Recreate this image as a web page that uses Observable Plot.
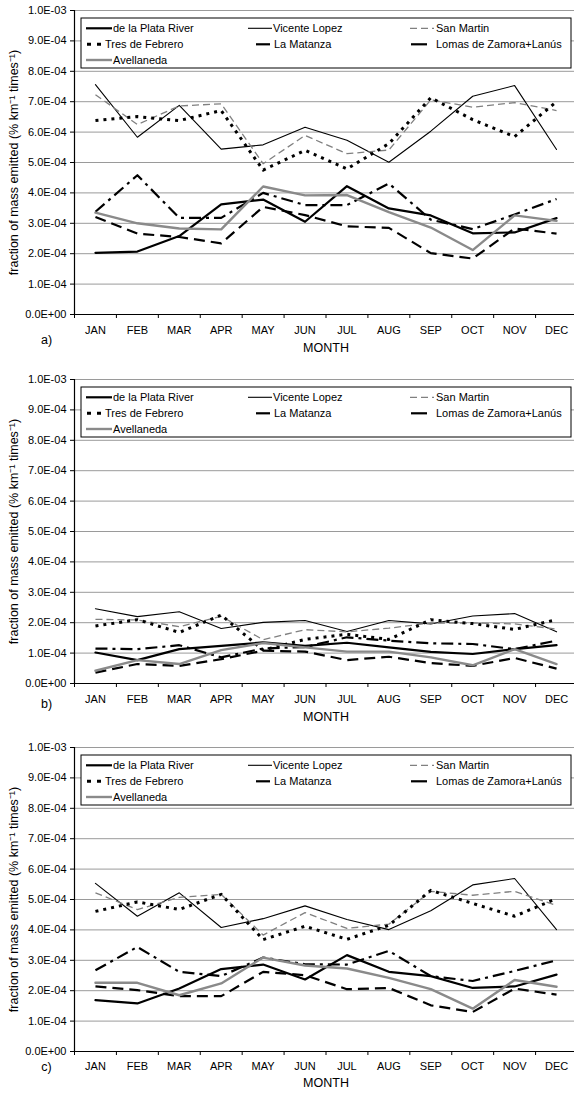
<!DOCTYPE html>
<html><head><meta charset="utf-8">
<script src="https://cdn.jsdelivr.net/npm/d3@7"></script>
<script src="https://cdn.jsdelivr.net/npm/@observablehq/plot@0.6"></script>
<style>
html,body{margin:0;padding:0;background:#fff;overflow:hidden;}
#root{width:574px;height:1093px;overflow:hidden;position:relative;}
#root svg{display:block;}
</style></head><body><div id="root"></div>
<script>
// ---- data (values in units of 1E-04) ----
const months = ["JAN","FEB","MAR","APR","MAY","JUN","JUL","AUG","SEP","OCT","NOV","DEC"];
const seriesNames = ["de la Plata River","Vicente Lopez","San Martin","Tres de Febrero","La Matanza","Lomas de Zamora+Lanús","Avellaneda"];
const yTicks = [0, 1e-4, 2e-4, 3e-4, 4e-4, 5e-4, 6e-4, 7e-4, 8e-4, 9e-4, 1e-3];
const panelLabels = ["a)", "b)", "c)"];
const xTitle = "MONTH";
const yTitle = "fraction of mass emitted (% km\u207B\u00B9 times\u207B\u00B9)";

const aPlata      = [2.03, 2.07, 2.58, 3.62, 3.78, 3.05, 4.22, 3.49, 3.26, 2.67, 2.70, 3.17];
const aVicente    = [7.56, 5.83, 6.88, 5.44, 5.58, 6.16, 5.73, 5.01, 6.03, 7.18, 7.53, 5.43];
const aSanMartin  = [7.23, 6.25, 6.86, 6.93, 4.96, 5.89, 5.29, 5.41, 7.06, 6.82, 6.97, 6.71];
const aTres       = [6.38, 6.51, 6.38, 6.71, 4.75, 5.40, 4.79, 5.62, 7.13, 6.41, 5.85, 7.00];
const aMatanza    = [3.38, 4.58, 3.18, 3.18, 4.00, 3.60, 3.60, 4.31, 3.12, 2.81, 3.29, 3.80];
const aLomas      = [3.21, 2.66, 2.55, 2.34, 3.54, 3.27, 2.90, 2.85, 2.02, 1.84, 2.83, 2.66];
const aAvellaneda = [3.35, 3.00, 2.83, 2.80, 4.21, 3.92, 3.93, 3.37, 2.86, 2.12, 3.26, 3.08];

const bPlata      = [1.02, 0.77, 1.13, 1.24, 1.35, 1.24, 1.34, 1.19, 1.04, 0.97, 1.13, 1.26];
const bVicente    = [2.46, 2.20, 2.36, 1.81, 2.01, 2.07, 1.71, 2.07, 1.96, 2.22, 2.30, 1.70];
const bSanMartin  = [2.11, 2.09, 1.87, 2.21, 1.44, 1.77, 1.70, 1.82, 1.99, 1.99, 1.96, 1.79];
const bTres       = [1.89, 2.10, 1.68, 2.25, 1.10, 1.45, 1.62, 1.45, 2.10, 1.97, 1.78, 2.10];
const bMatanza    = [1.15, 1.13, 1.26, 0.86, 1.15, 1.20, 1.52, 1.41, 1.32, 1.30, 1.13, 1.41];
const bLomas      = [0.36, 0.64, 0.58, 0.80, 1.08, 1.05, 0.77, 0.88, 0.67, 0.58, 0.84, 0.49];
const bAvellaneda = [0.42, 0.77, 0.64, 1.10, 1.33, 1.19, 1.05, 1.05, 0.86, 0.60, 1.13, 0.64];

const cPlata      = [1.69, 1.58, 2.07, 2.71, 2.86, 2.37, 3.17, 2.62, 2.48, 2.09, 2.14, 2.53];
const cVicente    = [5.53, 4.45, 5.22, 4.08, 4.37, 4.79, 4.34, 4.01, 4.63, 5.48, 5.69, 4.01];
const cSanMartin  = [5.22, 4.67, 5.07, 5.17, 3.83, 4.57, 4.05, 4.19, 5.27, 5.14, 5.27, 4.80];
const cTres       = [4.61, 4.92, 4.67, 5.17, 3.68, 4.12, 3.69, 4.15, 5.30, 4.87, 4.45, 5.03];
const cMatanza    = [2.67, 3.44, 2.62, 2.48, 3.09, 2.87, 2.86, 3.31, 2.48, 2.32, 2.65, 3.00];
const cLomas      = [2.14, 2.02, 1.82, 1.82, 2.62, 2.51, 2.05, 2.09, 1.52, 1.30, 2.07, 1.87];
const cAvellaneda = [2.26, 2.26, 1.85, 2.24, 3.09, 2.83, 2.73, 2.42, 2.05, 1.41, 2.35, 2.13];

const panelData = [
  [aPlata, aVicente, aSanMartin, aTres, aMatanza, aLomas, aAvellaneda],
  [bPlata, bVicente, bSanMartin, bTres, bMatanza, bLomas, bAvellaneda],
  [cPlata, cVicente, cSanMartin, cTres, cMatanza, cLomas, cAvellaneda]
];

// ---- styles ----
const FONT = "'Liberation Sans', Arial, Helvetica, sans-serif";
const lineStyles = {
  "de la Plata River":      {stroke: "#000", strokeWidth: 2.2, dash: null},
  "Vicente Lopez":          {stroke: "#000", strokeWidth: 1.1, dash: null},
  "San Martin":             {stroke: "#808080", strokeWidth: 1.3, dash: "7,4"},
  "Tres de Febrero":        {stroke: "#000", strokeWidth: 3, dash: "3,5"},
  "La Matanza":             {stroke: "#000", strokeWidth: 2.2, dash: "12,5,3,5"},
  "Lomas de Zamora+Lanús":  {stroke: "#000", strokeWidth: 2.2, dash: "11,6"},
  "Avellaneda":             {stroke: "#8a8a8a", strokeWidth: 2.4, dash: null}
};
const legendLayout = {
  "de la Plata River":     {row: 0, x0: 86,  x1: 112, tx: 113, dash: null},
  "Vicente Lopez":         {row: 0, x0: 248, x1: 272, tx: 273, dash: null},
  "San Martin":            {row: 0, x0: 410, x1: 434, tx: 436, dash: "7,4"},
  "Tres de Febrero":       {row: 1, x0: 87,  x1: 101, tx: 105, dash: "4,6"},
  "La Matanza":            {row: 1, x0: 256, x1: 270, tx: 274, dash: null},
  "Lomas de Zamora+Lanús": {row: 1, x0: 411, x1: 427, tx: 436, dash: null},
  "Avellaneda":            {row: 2, x0: 86,  x1: 112, tx: 113, dash: null}
};
const panelLayout = [
  {height: 368, marginTop: 10, marginBottom: 54, tickPad: 12, labelDy: 25,   titleDy: 33.5},
  {height: 369, marginTop: 11, marginBottom: 54, tickPad: 12, labelDy: 20,   titleDy: 33},
  {height: 356, marginTop: 10, marginBottom: 42, tickPad: 11, labelDy: 15,   titleDy: 31.5}
];

function fmtE(v) {
  if (v === 0) return "0.0E+00";
  const e = Math.floor(Math.log10(Math.abs(v)) + 1e-9);
  const m = v / Math.pow(10, e);
  return m.toFixed(1) + "E" + (e < 0 ? "-" : "+") + String(Math.abs(e)).padStart(2, "0");
}

const root = document.getElementById("root");

panelData.forEach((arrs, p) => {
  const L = panelLayout[p];
  const rows = [];
  seriesNames.forEach((s, k) => {
    arrs[k].forEach((v, i) => rows.push({series: s, month: months[i], xi: i + 0.5, value: v * 1e-4}));
  });

  const lineMarks = seriesNames.map(s => {
    const st = lineStyles[s];
    return Plot.line(rows.filter(r => r.series === s), {
      x: "xi", y: "value",
      stroke: st.stroke, strokeWidth: st.strokeWidth,
      strokeDasharray: st.dash || undefined,
      strokeLinecap: st.dash ? "butt" : "round",
      strokeLinejoin: "round"
    });
  });

  const chart = Plot.plot({
    width: 577,
    height: L.height,
    marginLeft: 74,
    marginRight: 0,
    marginTop: L.marginTop,
    marginBottom: L.marginBottom,
    style: {fontFamily: FONT, fontSize: "11px", maxWidth: "none", color: "#000", background: "#fff"},
    x: {type: "linear", domain: [0, months.length], axis: null},
    y: {type: "linear", domain: [0, 1e-3], axis: null},
    marks: [
      Plot.ruleY(yTicks.filter(d => d > 0), {stroke: "#9a9a9a", strokeWidth: 1}),
      Plot.axisY({ticks: yTicks, tickFormat: fmtE, tickSize: 4, tickPadding: 4, label: null, fontSize: 11}),
      Plot.axisX({ticks: months.map((m, i) => i + 0.5), tickFormat: d => months[Math.floor(d)], tickSize: 0, tickPadding: L.tickPad, label: null, fontSize: 11}),
      Plot.axisX({ticks: d3.range(0, months.length + 1), tickFormat: () => "", tickSize: 4, label: null}),
      ...lineMarks,
      Plot.ruleY([0], {stroke: "#000", strokeWidth: 1.2}),
      Plot.ruleX([0], {stroke: "#000", strokeWidth: 1.2}),
      Plot.text([xTitle], {frameAnchor: "bottom", textAnchor: "middle", lineAnchor: "middle", dy: L.titleDy, fontSize: 12.5, fill: "#000"}),
      Plot.text([panelLabels[p]], {frameAnchor: "bottom-left", textAnchor: "middle", lineAnchor: "middle", dx: -28, dy: L.labelDy, fontSize: 12.5, fill: "#000"}),
      Plot.text([yTitle], {frameAnchor: "left", textAnchor: "middle", lineAnchor: "middle", rotate: -90, dx: -61, fontSize: 12.5, fill: "#000"})
    ]
  });

  // legend box drawn over the plot area
  const svg = d3.select(chart);
  const top = L.marginTop + 8;
  const g = svg.append("g").attr("font-family", FONT).attr("font-size", 11).attr("text-anchor", "start");
  g.append("rect").attr("x", 81).attr("y", top).attr("width", 490).attr("height", 50)
    .attr("fill", "#fff").attr("stroke", "#000").attr("stroke-width", 1);
  const rowY = [10.3, 26.3, 42];
  seriesNames.forEach(s => {
    const st = lineStyles[s], lg = legendLayout[s];
    const y = top + rowY[lg.row];
    g.append("line").attr("x1", lg.x0).attr("x2", lg.x1).attr("y1", y).attr("y2", y)
      .attr("stroke", st.stroke).attr("stroke-width", st.strokeWidth)
      .attr("stroke-dasharray", lg.dash)
      .attr("stroke-linecap", "butt");
    g.append("text").attr("x", lg.tx).attr("y", y).attr("dy", "0.35em")
      .attr("text-anchor", "start").attr("fill", "#000").text(s);
  });

  root.appendChild(chart);
});
</script></body></html>
